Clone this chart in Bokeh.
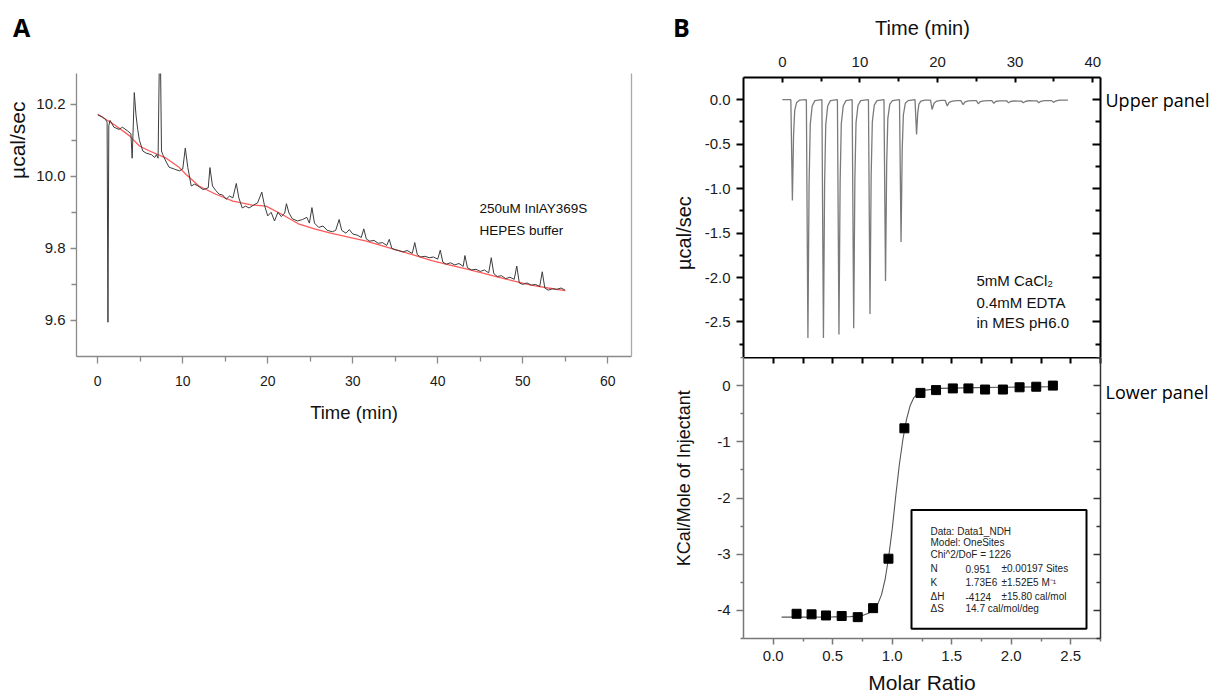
from bokeh.plotting import figure
from bokeh.models import Range1d, LinearAxis, FixedTicker, Label, BoxAnnotation, PrintfTickFormatter
from bokeh.layouts import row, column
from bokeh.embed import file_html
from bokeh.resources import INLINE

# ---------------- data ----------------
# Panel A: raw heat trace (buffer blank) and fitted baseline
a_time = [0.0, 0.5, 0.9, 1.1, 1.2, 1.3, 1.45, 1.9, 2.5, 2.9,
          3.5, 3.9, 4.05, 4.15, 4.3, 4.5, 4.7, 4.9, 5.3, 5.7,
          6.3, 6.7, 6.9, 7.1, 7.32, 7.5, 7.65, 8.05, 8.4, 9.0,
          9.6, 10.0, 10.3, 10.6, 11.0, 11.4, 11.8, 12.4, 13.0, 13.2,
          13.5, 13.9, 14.3, 14.7, 15.1, 15.5, 15.9, 16.3, 16.6, 17.0,
          17.4, 17.8, 18.4, 18.8, 19.3, 19.6, 20.0, 20.4, 20.8, 21.2,
          21.6, 22.0, 22.2, 22.5, 22.9, 23.5, 24.1, 24.6, 24.9, 25.2,
          25.5, 26.0, 26.5, 27.0, 27.6, 28.0, 28.4, 28.7, 29.2, 29.6,
          30.0, 30.6, 31.0, 31.3, 31.6, 32.0, 32.5, 33.0, 33.5, 34.0,
          34.3, 34.6, 35.0, 35.4, 35.9, 36.4, 37.0, 37.3, 37.6, 38.0,
          38.5, 39.0, 39.5, 40.0, 40.3, 40.6, 41.0, 41.5, 42.0, 42.5,
          43.0, 43.2, 43.5, 44.0, 44.5, 45.0, 45.5, 46.0, 46.3, 46.6,
          47.0, 47.5, 48.0, 48.5, 49.0, 49.3, 49.6, 50.0, 50.5, 51.0,
          51.5, 52.0, 52.3, 52.6, 53.0, 53.5, 54.0, 54.5, 55.0]
a_power = [10.170, 10.165, 10.158, 10.150, 9.595, 10.140, 10.155, 10.136, 10.130, 10.136,
           10.126, 10.118, 10.050, 10.120, 10.232, 10.170, 10.130, 10.100, 10.070, 10.064,
           10.060, 10.052, 10.060, 10.050, 10.450, 10.070, 10.060, 10.040, 10.025, 10.020,
           10.015, 10.020, 10.078, 10.024, 9.973, 9.978, 9.973, 9.963, 9.968, 10.024,
           9.973, 9.960, 9.950, 9.948, 9.936, 9.945, 9.940, 9.980, 9.940, 9.912,
           9.917, 9.912, 9.921, 9.926, 9.956, 9.921, 9.890, 9.900, 9.876, 9.900,
           9.888, 9.898, 9.924, 9.898, 9.882, 9.876, 9.880, 9.886, 9.870, 9.913,
           9.870, 9.858, 9.862, 9.850, 9.846, 9.850, 9.880, 9.850, 9.842, 9.852,
           9.840, 9.836, 9.830, 9.854, 9.826, 9.820, 9.822, 9.814, 9.816, 9.808,
           9.825, 9.800, 9.796, 9.794, 9.790, 9.794, 9.786, 9.816, 9.782, 9.776,
           9.778, 9.774, 9.776, 9.770, 9.795, 9.762, 9.756, 9.760, 9.754, 9.758,
           9.750, 9.780, 9.746, 9.740, 9.742, 9.736, 9.740, 9.732, 9.774, 9.730,
           9.722, 9.724, 9.716, 9.720, 9.714, 9.751, 9.704, 9.700, 9.704, 9.698,
           9.700, 9.694, 9.735, 9.690, 9.684, 9.688, 9.686, 9.690, 9.684]
a_base_time = [0.0, 2.0, 3.75, 4.9, 6.1, 8.05, 9.6, 10.4, 11.9, 13.9,
               15.9, 18.2, 19.8, 21.7, 23.7, 25.6, 27.4, 29.5, 31.6, 33.5,
               35.4, 37.4, 39.3, 41.2, 43.2, 45.2, 47.1, 49.0, 51.0, 53.0, 55.0]
a_base_power = [10.172, 10.142, 10.112, 10.084, 10.070, 10.050, 10.024, 10.005, 9.973, 9.950,
                9.931, 9.920, 9.917, 9.894, 9.867, 9.853, 9.842, 9.831, 9.820, 9.807,
                9.794, 9.780, 9.766, 9.755, 9.744, 9.732, 9.720, 9.709, 9.698, 9.690, 9.683]
a_xticks = [0, 10, 20, 30, 40, 50, 60]
a_xminor = [5, 15, 25, 35, 45, 55]
a_yticks = [9.6, 9.8, 10.0, 10.2]
a_yminor = [9.7, 9.9, 10.1]

# Panel B upper: raw titration trace
b_time = [0.0, 1.1, 1.3, 1.45, 1.6, 1.85, 2.2,
          3.1, 3.3, 3.45, 3.6, 3.85, 4.2,
          5.1, 5.3, 5.45, 5.6, 5.85, 6.2,
          7.1, 7.3, 7.45, 7.6, 7.85, 8.2,
          9.0, 9.2, 9.35, 9.5, 9.75, 10.1,
          11.1, 11.3, 11.45, 11.6, 11.85, 12.2,
          13.1, 13.3, 13.45, 13.6, 13.85, 14.2,
          15.1, 15.3, 15.45, 15.6, 15.85, 16.2,
          17.1, 17.3, 17.45, 17.6, 17.85, 18.4,
          19.1, 19.3, 19.55, 19.9, 20.5,
          21.0, 21.25, 21.5, 21.9, 22.5,
          23.0, 23.3, 23.55, 24.0, 24.6,
          25.0, 25.25, 25.5, 26.0, 26.6,
          27.0, 27.25, 27.5, 28.0, 28.5,
          28.9, 29.15, 29.4, 29.9, 30.4,
          30.8, 31.05, 31.3, 31.8, 32.4,
          32.8, 33.05, 33.3, 33.8, 34.3,
          34.7, 34.95, 35.2, 35.7, 36.3, 36.8]
b_power = [0.0, 0.0, -1.135, -0.40, -0.12, -0.03, -0.005,
           0.0, -2.68, -0.95, -0.28, -0.07, -0.01,
           0.0, -2.68, -0.95, -0.28, -0.07, -0.01,
           0.0, -2.64, -0.93, -0.27, -0.07, -0.01,
           0.0, -2.57, -0.90, -0.26, -0.065, -0.01,
           0.0, -2.41, -0.85, -0.25, -0.06, -0.01,
           0.0, -2.04, -0.72, -0.21, -0.05, -0.01,
           0.0, -1.60, -0.56, -0.17, -0.04, -0.01,
           0.0, -0.39, -0.15, -0.05, -0.015, -0.005,
           -0.005, -0.11, -0.04, -0.015, -0.008,
           -0.008, -0.07, -0.03, -0.015, -0.01,
           -0.01, -0.055, -0.025, -0.012, -0.01,
           -0.01, -0.045, -0.022, -0.012, -0.01,
           -0.01, -0.04, -0.02, -0.012, -0.012,
           -0.012, -0.035, -0.02, -0.012, -0.015,
           -0.015, -0.035, -0.02, -0.01, -0.012,
           -0.012, -0.035, -0.018, -0.01, -0.01,
           -0.01, -0.03, -0.015, -0.005, -0.005, -0.005]
bu_xticks = [0, 10, 20, 30, 40]
bu_xminor = [5, 15, 25, 35]
bu_yticks = [0.0, -0.5, -1.0, -1.5, -2.0, -2.5]
bu_yminor = [-0.25, -0.75, -1.25, -1.75, -2.25, -2.75]

# Panel B lower: integrated heats and one-site fit
b_ratio = [0.196, 0.322, 0.443, 0.575, 0.71, 0.839, 0.968, 1.102, 1.237,
           1.368, 1.509, 1.64, 1.78, 1.93, 2.07, 2.21, 2.35]
b_heat = [-4.06, -4.07, -4.09, -4.10, -4.12, -3.96, -3.08, -0.76, -0.13,
          -0.08, -0.05, -0.05, -0.07, -0.07, -0.03, -0.02, 0.0]
b_fit_ratio = [0.07, 0.3, 0.5, 0.65, 0.75, 0.8, 0.85, 0.88, 0.91, 0.94, 0.97, 1.0,
               1.03, 1.06, 1.09, 1.12, 1.15, 1.18, 1.22, 1.28, 1.4, 1.6, 1.9, 2.35]
b_fit_heat = [-4.12, -4.12, -4.115, -4.11, -4.09, -4.05, -3.97, -3.88, -3.72, -3.45, -3.05, -2.55,
              -1.95, -1.4, -0.95, -0.6, -0.36, -0.22, -0.13, -0.08, -0.05, -0.04, -0.03, -0.02]
bl_xticks = [0.0, 0.5, 1.0, 1.5, 2.0, 2.5]
bl_xminor = [0.25, 0.75, 1.25, 1.75, 2.25, 2.75]
bl_yticks = [0, -1, -2, -3, -4]
bl_yminor = [0.5, -0.5, -1.5, -2.5, -3.5, -4.5]
fit_lines = [("Data: Data1_NDH", "", ""),
             ("Model: OneSites", "", ""),
             ("Chi^2/DoF = 1226", "", ""),
             ("N", "0.951", "±0.00197 Sites"),
             ("K", "1.73E6", "±1.52E5 M⁻¹"),
             ("ΔH", "-4124", "±15.80 cal/mol"),
             ("ΔS", "14.7 cal/mol/deg", "")]

ARIAL = "Liberation Sans"
CALIBRI = "Open Sans"

# canvas layout (pixels)
TOTAL_W = 1216
STRIP_H = 45
BODY_H = 651
A_W = 668
B_X0 = 668


def conv(p0, p1, v0, v1):
    return lambda px: v0 + (px - p0) * (v1 - v0) / (p1 - p0)


def add_label(p, x, y, text, size, font=ARIAL, angle=0.0, align="center",
              baseline="middle", style="normal", color="#111111"):
    p.add_layout(Label(x=x, y=y, text=text, text_font_size=size, text_font=font,
                       angle=angle, text_align=align, text_baseline=baseline,
                       text_font_style=style, text_color=color))


def style_axis(ax, color, width, t_in, t_out, m_in, m_out, font_size="15px",
               font=ARIAL, standoff=6, labels=True):
    ax.axis_line_color = color
    ax.axis_line_width = width
    ax.major_tick_line_color = color
    ax.minor_tick_line_color = color
    ax.major_tick_line_width = width
    ax.minor_tick_line_width = width
    ax.major_tick_in = t_in
    ax.major_tick_out = t_out
    ax.minor_tick_in = m_in
    ax.minor_tick_out = m_out
    if labels:
        ax.major_label_text_font = font
        ax.major_label_text_font_size = font_size
        ax.major_label_text_color = "#1a1a1a"
        ax.major_label_standoff = standoff
    else:
        ax.major_label_text_font_size = "0px"
        ax.major_label_standoff = 0


def text_axis(p, side, pos, text, size, standoff, font=ARIAL, orientation="horizontal", color="#111111"):
    """An axis with no line and no ticks, whose single tick label is a title text."""
    ax = LinearAxis(ticker=FixedTicker(ticks=[pos], minor_ticks=[]),
                    major_label_overrides={pos: text})
    ax.axis_line_color = None
    ax.major_tick_line_color = None
    ax.minor_tick_line_color = None
    ax.major_tick_in = 0
    ax.major_tick_out = 0
    ax.minor_tick_in = 0
    ax.minor_tick_out = 0
    ax.major_label_standoff = standoff
    ax.major_label_orientation = orientation
    ax.major_label_text_font = font
    ax.major_label_text_font_size = size
    ax.major_label_text_color = color
    p.add_layout(ax, side)


def base_fig(**kw):
    p = figure(output_backend="svg", toolbar_location=None, **kw)
    p.grid.visible = False
    p.outline_line_color = None
    p.background_fill_color = "white"
    p.border_fill_color = "white"
    return p


# ---------------- top strip with the panel letters and the upper time title ----------------
strip = figure(output_backend="svg", toolbar_location=None, frame_width=TOTAL_W, frame_height=STRIP_H,
               min_border_left=0, min_border_right=0, min_border_top=0, min_border_bottom=0,
               x_range=Range1d(0, TOTAL_W), y_range=Range1d(STRIP_H, 0),
               x_axis_type=None, y_axis_type=None)
strip.outline_line_color = None
strip.border_fill_color = "white"
add_label(strip, 21, 26, "A", "25px", font=CALIBRI, style="bold", color="black")
add_label(strip, 681, 26, "B", "25px", font=CALIBRI, style="bold", color="black")
add_label(strip, 922, 27, "Time (min)", "20px")

# ---------------- Panel A ----------------
A_TOP = 73 - STRIP_H
pA = base_fig(frame_width=555, frame_height=283, min_border_left=76, min_border_right=A_W - 631,
              min_border_top=A_TOP, min_border_bottom=BODY_H - A_TOP - 283,
              x_range=Range1d(-2.5, 62.8), y_range=Range1d(9.5, 10.285))
ax_x = conv(76, 631, -2.5, 62.8)
ax_y = conv(356, 73, 9.5, 10.285)
pA.line(a_base_time, a_base_power, line_color="#ff5a5a", line_width=1.3)
pA.line(a_time, a_power, line_color="#3c3c3c", line_width=1.0)

xa = pA.xaxis[0]
xa.ticker = FixedTicker(ticks=a_xticks, minor_ticks=a_xminor)
style_axis(xa, "#8a8a8a", 1.3, 0, 7, 0, 5, font_size="14px", standoff=12)
xa.axis_label = "Time (min)"
xa.axis_label_text_font = ARIAL
xa.axis_label_text_font_size = "18.5px"
xa.axis_label_text_font_style = "normal"
xa.axis_label_text_color = "#111111"
xa.axis_label_standoff = 13
ya = pA.yaxis[0]
ya.ticker = FixedTicker(ticks=a_yticks, minor_ticks=a_yminor)
ya.formatter = PrintfTickFormatter(format="%.1f")
style_axis(ya, "#8a8a8a", 1.3, 0, 6, 0, 5, font_size="15px", standoff=5)
text_axis(pA, "left", 10.1, "µcal/sec", "21px", 4, orientation="vertical")
ra = LinearAxis(ticker=FixedTicker(ticks=[]))
style_axis(ra, "#a8a8a8", 1.3, 0, 0, 0, 0, labels=False)
pA.add_layout(ra, "right")

add_label(pA, ax_x(479), ax_y(208), "250uM InlAY369S", "13.5px", align="left")
add_label(pA, ax_x(479), ax_y(229.5), "HEPES buffer", "13.5px", align="left")

# ---------------- Panel B upper ----------------
U_TOP = 77 - STRIP_H
pU = base_fig(frame_width=357, frame_height=280, min_border_left=743 - B_X0,
              min_border_right=TOTAL_W - B_X0 - (743 - B_X0) - 357,
              min_border_top=U_TOP, min_border_bottom=0, x_axis_location="above",
              x_range=Range1d(-5, 41), y_range=Range1d(-2.9, 0.25))
ub_x = conv(743, 1100, -5, 41)
ub_y = conv(357, 77, -2.9, 0.25)
pU.line(b_time, b_power, line_color="#7a7a7a", line_width=1.3)

ux = pU.xaxis[0]
ux.ticker = FixedTicker(ticks=bu_xticks, minor_ticks=bu_xminor)
style_axis(ux, "black", 2, 5, 0, 4, 0, font_size="15px", standoff=11)
uy = pU.yaxis[0]
uy.ticker = FixedTicker(ticks=bu_yticks, minor_ticks=bu_yminor)
uy.formatter = PrintfTickFormatter(format="%.1f")
style_axis(uy, "black", 2, 0, 7, 0, 4, font_size="15px", standoff=6)
text_axis(pU, "left", -1.5, "µcal/sec", "20px", 6, orientation="vertical")
ur = LinearAxis(ticker=FixedTicker(ticks=bu_yticks, minor_ticks=bu_yminor))
style_axis(ur, "black", 2, 8, 0, 5, 0, labels=False)
pU.add_layout(ur, "right")
text_axis(pU, "right", 0, "Upper panel", "18px", 5, font=CALIBRI, color="black")

add_label(pU, ub_x(976), ub_y(280), "5mM CaCl₂", "15px", align="left")
add_label(pU, ub_x(976), ub_y(302), "0.4mM EDTA", "15px", align="left")
add_label(pU, ub_x(976), ub_y(322), "in MES pH6.0", "15px", align="left")

# ---------------- Panel B lower ----------------
U_H = U_TOP + 280
pL = base_fig(frame_width=357, frame_height=281, min_border_left=743 - B_X0,
              min_border_right=TOTAL_W - B_X0 - (743 - B_X0) - 357,
              min_border_top=0, min_border_bottom=BODY_H - U_H - 281,
              x_range=Range1d(-0.25, 2.75), y_range=Range1d(-4.5, 0.5))
lb_x = conv(743, 1100, -0.25, 2.75)
lb_y = conv(638, 357, -4.5, 0.5)
pL.line(b_fit_ratio, b_fit_heat, line_color="#555555", line_width=1.1)
pL.scatter(b_ratio, b_heat, marker="square", size=9, fill_color="black", line_color="black")

lx = pL.xaxis[0]
lx.ticker = FixedTicker(ticks=bl_xticks, minor_ticks=bl_xminor)
lx.formatter = PrintfTickFormatter(format="%.1f")
style_axis(lx, "#777777", 1.5, 0, 6, 0, 3, font_size="15px", standoff=6)
lx.axis_label = "Molar Ratio"
lx.axis_label_text_font = ARIAL
lx.axis_label_text_font_size = "21px"
lx.axis_label_text_font_style = "normal"
lx.axis_label_text_color = "#111111"
lx.axis_label_standoff = 7
ly = pL.yaxis[0]
ly.ticker = FixedTicker(ticks=bl_yticks, minor_ticks=bl_yminor)
ly.formatter = PrintfTickFormatter(format="%d")
style_axis(ly, "#777777", 1.5, 0, 7, 0, 3, font_size="15px", standoff=6)
text_axis(pL, "left", -1.65, "KCal/Mole of Injectant", "18px", 20, orientation="vertical")
lt = LinearAxis(ticker=FixedTicker(ticks=bl_xticks + bl_xminor))
style_axis(lt, "black", 2, 6, 0, 0, 0, labels=False)
pL.add_layout(lt, "above")
lr = LinearAxis(ticker=FixedTicker(ticks=bl_yticks, minor_ticks=bl_yminor))
style_axis(lr, "#333333", 1.5, 7, 0, 4, 0, labels=False)
pL.add_layout(lr, "right")
text_axis(pL, "right", -0.12, "Lower panel", "18px", 5, font=CALIBRI, color="black")

pL.add_layout(BoxAnnotation(left=lb_x(911), right=lb_x(1086), top=lb_y(509.5), bottom=lb_y(628.3),
                            fill_alpha=0.0, line_color="black", line_alpha=1.0, line_width=2))
row_y = [530.7, 542.3, 554.3, 568.3, 581.7, 596.0, 608.3]
col_x = [930, 965, 1001]
for (c1, c2, c3), yy in zip(fit_lines, row_y):
    for txt, xx in zip((c1, c2, c3), col_x):
        if txt:
            add_label(pL, lb_x(xx), lb_y(yy), txt, "10px", align="left", color="#222222")

layout = column(strip, row(pA, column(pU, pL)))
open("out.html", "w").write(file_html(layout, INLINE))
